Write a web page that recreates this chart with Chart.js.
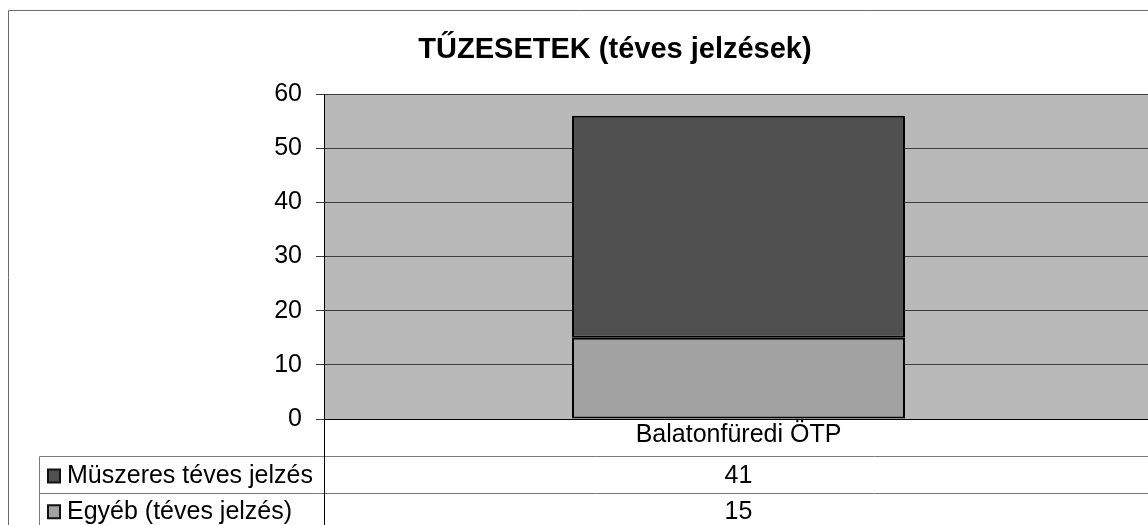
<!DOCTYPE html>
<html>
<head>
<meta charset="utf-8">
<script src="https://cdn.jsdelivr.net/npm/chart.js@4"></script>
<style>
  html, body { margin: 0; padding: 0; background: #fff; overflow: hidden; }
  #wrap { width: 1148px; height: 525px; overflow: hidden; position: relative; }
  canvas { display: block; }
</style>
</head>
<body>
<div id="wrap"><canvas id="c" width="1153" height="545"></canvas></div>
<script>
const chartTitle = 'TŰZESETEK (téves jelzések)';
const categories = ['Balatonfüredi ÖTP'];
const seriesNames = ['Müszeres téves jelzés', 'Egyéb (téves jelzés)'];
const muszeresValues = [41];
const egyebValues = [15];
const yTickValues = [0, 10, 20, 30, 40, 50, 60];

const FONT = "'Liberation Sans', Arial, sans-serif";
const colMuszeres = '#505050';
const colEgyeb = '#a2a2a2';

const plotBg = {
  id: 'plotBg',
  beforeDraw(chart) {
    const ctx = chart.ctx, a = chart.chartArea;
    ctx.save();
    ctx.fillStyle = '#fff';
    ctx.fillRect(0, 0, chart.width, chart.height);
    ctx.fillStyle = '#b9b9b9';
    ctx.fillRect(a.left, a.top, a.right - a.left, a.bottom - a.top);
    ctx.restore();
  }
};

const dataTable = {
  id: 'dataTable',
  afterDraw(chart) {
    const ctx = chart.ctx, a = chart.chartArea;
    const xs = chart.scales.x;
    ctx.save();
    // outer border
    ctx.strokeStyle = '#6a6a6a';
    ctx.lineWidth = 1;
    ctx.beginPath();
    ctx.moveTo(8.5, chart.height);
    ctx.lineTo(8.5, 10.5);
    ctx.lineTo(chart.width, 10.5);
    ctx.stroke();

    const tLeft = 39.5, row1 = 456.5, row2 = 493.5, rowEnd = 528;
    ctx.strokeStyle = '#7a7a7a';
    ctx.beginPath();
    ctx.moveTo(tLeft, row1); ctx.lineTo(chart.width, row1);
    ctx.moveTo(tLeft, row2); ctx.lineTo(chart.width, row2);
    ctx.moveTo(tLeft, row1); ctx.lineTo(tLeft, chart.height);
    ctx.stroke();
    ctx.strokeStyle = '#000';
    ctx.beginPath();
    ctx.moveTo(Math.round(a.left) + 0.5, a.bottom); ctx.lineTo(Math.round(a.left) + 0.5, chart.height);
    ctx.stroke();

    const rows = [
      { name: seriesNames[0], vals: muszeresValues, color: colMuszeres, top: row1, bottom: row2 },
      { name: seriesNames[1], vals: egyebValues, color: colEgyeb, top: row2, bottom: rowEnd }
    ];
    ctx.font = '25px ' + FONT;
    ctx.textBaseline = 'middle';
    rows.forEach(r => {
      const cy = (r.top + r.bottom) / 2 + 1;
      ctx.fillStyle = r.color;
      ctx.fillRect(48, cy - 6.5, 12, 13);
      ctx.strokeStyle = '#111';
      ctx.lineWidth = 2;
      ctx.strokeRect(48, cy - 6.5, 12, 13);
      ctx.fillStyle = '#000';
      ctx.textAlign = 'left';
      ctx.fillText(r.name, 67, cy);
      ctx.textAlign = 'center';
      r.vals.forEach((v, i) => {
        ctx.fillText(String(v), xs.getPixelForValue(i), cy);
      });
    });
    ctx.restore();
  }
};

new Chart(document.getElementById('c'), {
  type: 'bar',
  data: {
    labels: categories,
    datasets: [
      { label: seriesNames[1], data: egyebValues, backgroundColor: colEgyeb, borderColor: '#000', borderWidth: 2, borderSkipped: false },
      { label: seriesNames[0], data: muszeresValues, backgroundColor: colMuszeres, borderColor: '#000', borderWidth: 2, borderSkipped: false }
    ]
  },
  options: {
    responsive: false,
    animation: false,
    devicePixelRatio: 1,
    barPercentage: 0.4017,
    categoryPercentage: 1,
    layout: { padding: { left: 77, right: 0, top: 0, bottom: 0 } },
    plugins: {
      legend: { display: false },
      tooltip: { enabled: false },
      title: {
        display: true,
        text: chartTitle,
        color: '#000',
        font: { family: FONT, size: 29, weight: 'bold' },
        padding: { top: 32.5, bottom: 26.7 }
      }
    },
    scales: {
      x: {
        stacked: true,
        grid: { display: false, drawTicks: false },
        border: { display: true, color: '#000', width: 1 },
        ticks: { color: '#000', font: { family: FONT, size: 25 }, padding: 1 },
        afterFit(s) { s.height = 126; }
      },
      y: {
        stacked: true,
        min: yTickValues[0],
        max: yTickValues[yTickValues.length - 1],
        afterBuildTicks(s) { s.ticks = yTickValues.map(v => ({ value: v })); },
        grid: { color: '#3c3c3c', lineWidth: 1, tickLength: 8, drawTicks: true },
        border: { display: true, color: '#000', width: 1 },
        ticks: { color: '#000', font: { family: FONT, size: 25 }, padding: 14 },
        afterFit(s) { s.width = 247; }
      }
    }
  },
  plugins: [plotBg, dataTable]
});
</script>
</body>
</html>
